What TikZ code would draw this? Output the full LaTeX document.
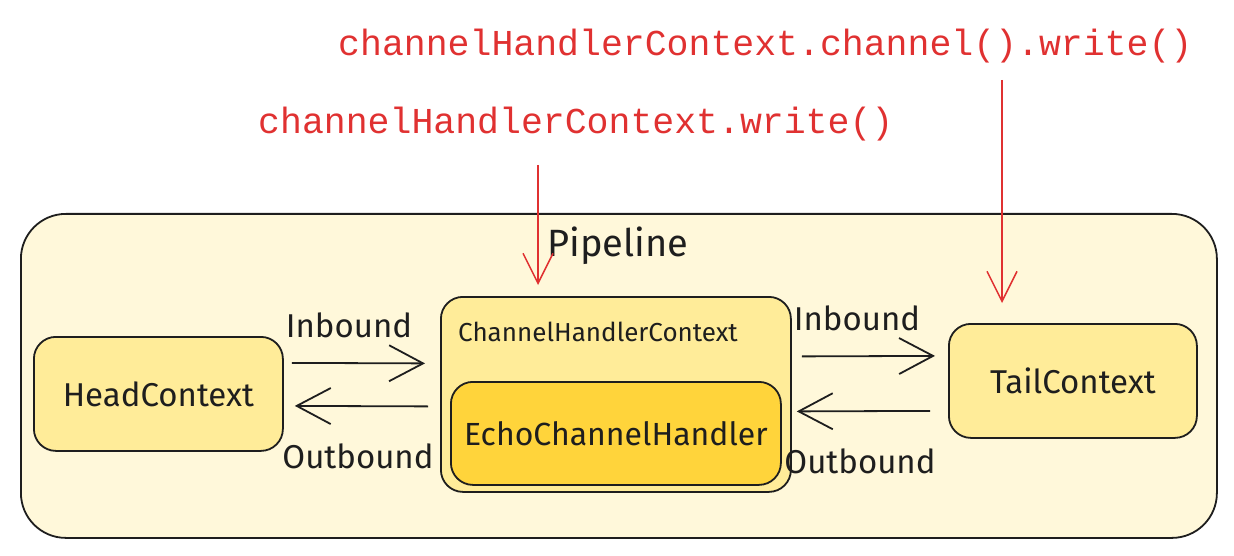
\documentclass[tikz,border=0pt]{standalone}
\usepackage{fontspec}
\setmainfont{Fira Sans}
\newfontfamily\codefont{Liberation Mono}
\usetikzlibrary{arrows.meta}
\definecolor{pipefill}{HTML}{FFF8DA}
\definecolor{ctxfill}{HTML}{FFEC99}
\definecolor{echofill}{HTML}{FFD43B}
\definecolor{inkred}{HTML}{E03131}
\definecolor{ink}{HTML}{1E1E1E}
\tikzset{
  box/.style={draw=ink, line width=1.8pt, rounded corners=22pt, fill=ctxfill, inner sep=0pt},
  arr/.style={draw=ink, line width=1.8pt, -{Straight Barb[length=34pt,width=36pt,line width=1.8pt]}},
  redarr/.style={draw=inkred, line width=1.5pt, -{Straight Barb[length=30pt,width=30pt,line width=1.5pt]}},
  lbl/.style={text=ink, font=\fontsize{33}{38}\selectfont, inner sep=0pt},
  code/.style={text=inkred, inner sep=0pt, anchor=base west, font=\codefont\fontsize{36.5}{40}\selectfont}
}
\begin{document}
\begin{tikzpicture}[x=1pt,y=-1pt]
\useasboundingbox (0,0) rectangle (1234,556);
% pipeline
\node[box, fill=pipefill, rounded corners=45pt, minimum width=1196pt, minimum height=324pt, anchor=north west] (pipe) at (20,213) {};
\node[text=ink, font=\fontsize{38}{44}\selectfont, inner sep=0pt] (pipelbl) at (618,246) {Pipeline};
% boxes
\node[box, minimum width=249pt, minimum height=114pt, anchor=north west] (head) at (33,336) {};
\node[lbl] (headlbl) at (head.center) {HeadContext};
\node[box, minimum width=350pt, minimum height=195pt, anchor=north west] (chc) at (440,296) {};
\node[lbl, font=\fontsize{26}{30}\selectfont, anchor=west] (chclbl) at (458,332) {ChannelHandlerContext};
\node[box, fill=echofill, minimum width=330pt, minimum height=103pt, anchor=north west] (echo) at (450,381) {};
\node[lbl, font=\fontsize{32}{36}\selectfont] (echolbl) at (echo.center) {EchoChannelHandler};
\node[box, minimum width=248pt, minimum height=114pt, anchor=north west] (tail) at (948,323) {};
\node[lbl] (taillbl) at (tail.center) {TailContext};
% connectors
\draw[arr] ([shift={(8,-31)}]head.east) -- ([shift={(-15,-31)}]chc.west);
\draw[arr] ([shift={(-12,12)}]chc.west) -- ([shift={(11,12)}]head.east);
\draw[arr] ([shift={(10,-38)}]chc.east) -- ([shift={(-13,-25)}]tail.west);
\draw[arr] ([shift={(-18,30)}]tail.west) -- ([shift={(5,17)}]chc.east);
\node[lbl] (in1) at (349,325) {Inbound};
\node[lbl] (out1) at (358,456) {Outbound};
\node[lbl] (in2) at (857,318) {Inbound};
\node[lbl] (out2) at (860,461) {Outbound};
% red code
\node[code] (w2) at (338,56) {channelHandlerContext.channel().write()};
\node[code] (w1) at (258,134) {channelHandlerContext.write()};
\coordinate (r1s) at (538,165);
\coordinate (r2s) at (1002,80);
\draw[redarr, shorten >=11pt] (r1s) -- (r1s |- chc.north);
\draw[redarr, shorten >=20pt] (r2s) -- (r2s |- tail.north);
\end{tikzpicture}
\end{document}
